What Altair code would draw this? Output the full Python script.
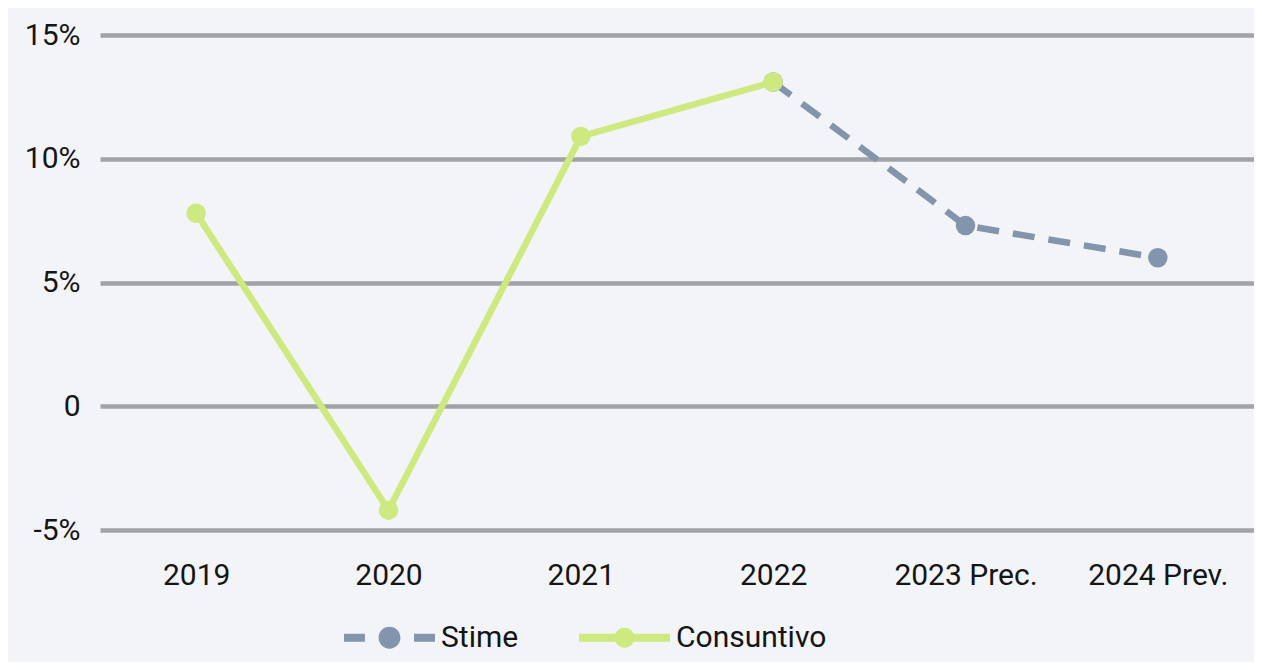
import altair as alt
import pandas as pd

categories = ["2019", "2020", "2021", "2022", "2023 Prec.", "2024 Prev."]
consuntivo = [7.8, -4.2, 10.9, 13.1, None, None]
stime = [None, None, None, 13.1, 7.3, 6.0]
series_names = ["Stime", "Consuntivo"]
y_ticks = [-5, 0, 5, 10, 15]

GREEN = "#cde97f"
BLUE = "#8394ad"
GRID = "#a2a3a7"
BG = "#f2f4f8"
TEXT = "#151515"
FONT = "Roboto"

rows = []
for c, v in zip(categories, stime):
    if v is not None:
        rows.append({"cat": c, "val": v, "series": "Stime"})
for c, v in zip(categories, consuntivo):
    if v is not None:
        rows.append({"cat": c, "val": v, "series": "Consuntivo"})
df = pd.DataFrame(rows)

# legend symbols (unit coordinates, -1..1)
def circ(r):
    return f"M{-r},0 A{r},{r} 0 1,1 {r},0 A{r},{r} 0 1,1 {-r},0 Z"

t = 0.088
path_stime = (f"M-1,{-t} H-0.54 V{t} H-1 Z "
              f"M0.54,{-t} H1 V{t} H0.54 Z " + circ(0.24))
path_cons = (f"M-1,{-t} H-0.2 V{t} H-1 Z "
             f"M0.2,{-t} H1 V{t} H0.2 Z " + circ(0.22))

x_enc = alt.X("cat:N", sort=categories, scale=alt.Scale(domain=categories),
              axis=alt.Axis(title=None, labelAngle=0, ticks=False, domain=False,
                            grid=False, labelPadding=30, labelFontSize=30,
                            labelFont=FONT, labelColor=TEXT))
y_enc = alt.Y("val:Q", scale=alt.Scale(domain=[-5, 15], nice=False, zero=False),
              axis=alt.Axis(title=None, values=y_ticks, ticks=False, domain=False,
                            labelExpr="datum.value == 0 ? '0' : datum.value + '%'",
                            labelPadding=20, labelFontSize=30, labelFont=FONT,
                            labelColor=TEXT, gridColor=GRID, gridWidth=4.5,
                            gridOpacity=1))

base = alt.Chart(df)

stime_line = base.transform_filter(alt.datum.series == "Stime").mark_line(
    color=BLUE, strokeWidth=6.5, strokeDash=[22, 14]).encode(x=x_enc, y=y_enc)
stime_pts = base.transform_filter(alt.datum.series == "Stime").mark_circle(
    color=BLUE, size=380, opacity=1).encode(x=x_enc, y=y_enc)
cons_line = base.transform_filter(alt.datum.series == "Consuntivo").mark_line(
    color=GREEN, strokeWidth=6.5).encode(x=x_enc, y=y_enc)
cons_pts = base.transform_filter(alt.datum.series == "Consuntivo").mark_circle(
    color=GREEN, size=380, opacity=1).encode(x=x_enc, y=y_enc)

leg = alt.Legend(title=None, orient="none", direction="horizontal",
                 legendX=244, legendY=557, symbolSize=8281, symbolOpacity=1,
                 symbolStrokeWidth=0, labelFontSize=30, labelFont=FONT,
                 labelColor=TEXT, labelOffset=6, columnPadding=60, padding=0)

legend_layer = base.mark_point(filled=True, opacity=0).encode(
    x=x_enc, y=y_enc,
    color=alt.Color("series:N", scale=alt.Scale(domain=series_names, range=[BLUE, GREEN]),
                    legend=leg),
    shape=alt.Shape("series:N", scale=alt.Scale(domain=series_names,
                                                range=[path_stime, path_cons]),
                    legend=leg),
)

chart = alt.layer(stime_line, stime_pts, cons_line, cons_pts, legend_layer).properties(
    width=1154, height=495,
    padding={"left": 92, "top": 27, "right": 0, "bottom": 132},
    autosize=alt.AutoSizeParams(type="none"),
    background=BG,
).configure_view(stroke=None).configure_axisY(labelBaseline="middle")

chart.save("out.html", embed_options={"renderer": "svg", "actions": False})
